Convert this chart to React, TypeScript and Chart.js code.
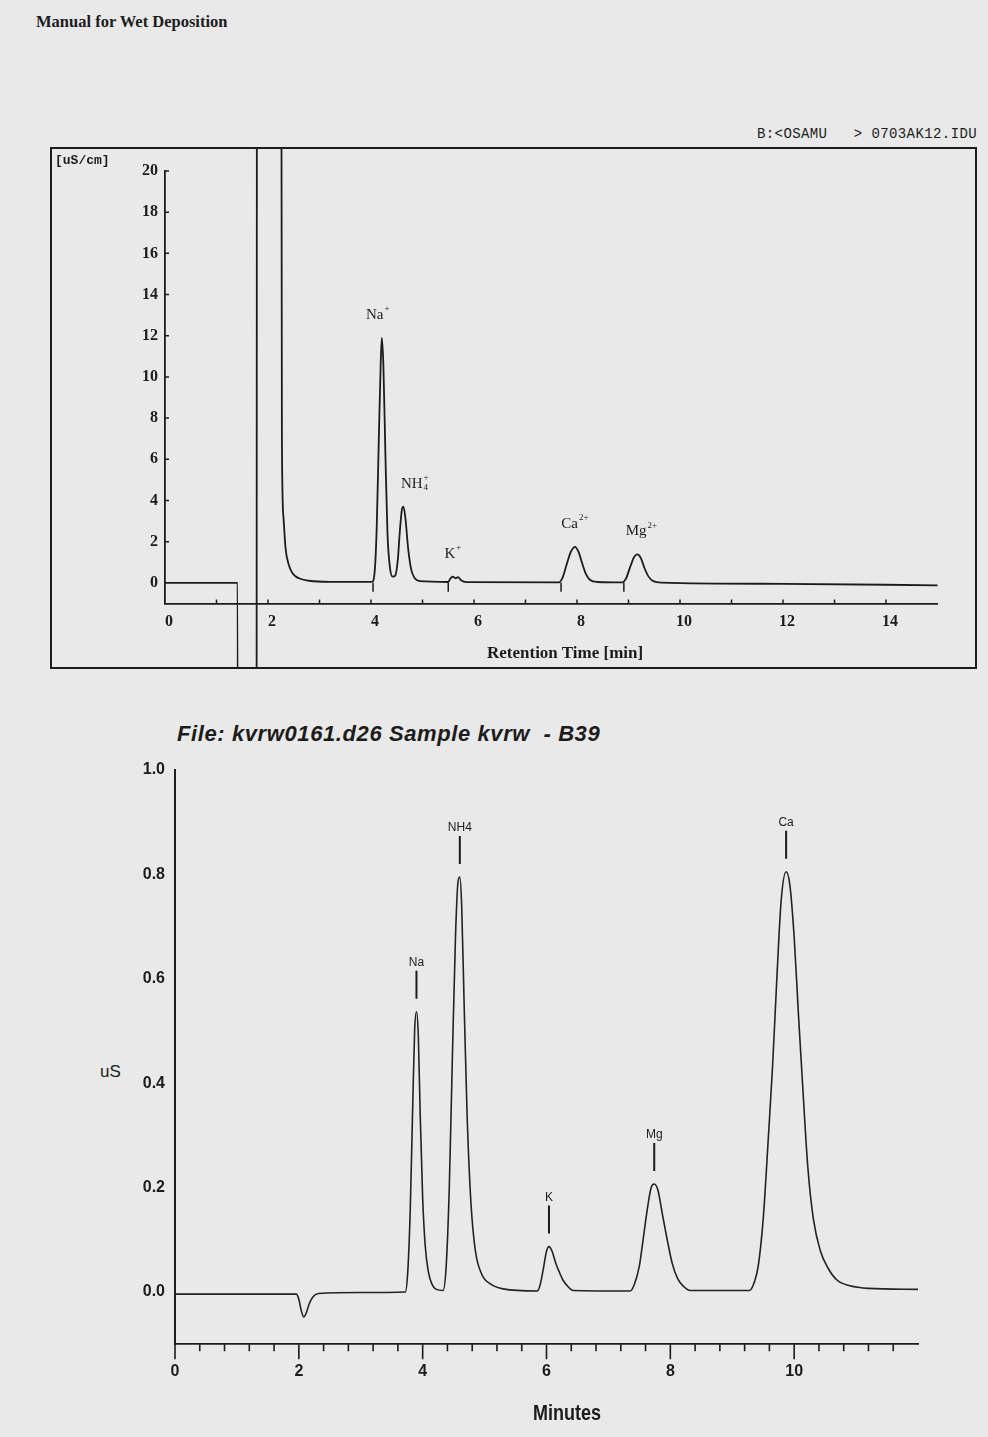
import React, { useEffect, useRef } from 'react';
import { Chart, registerables } from 'chart.js';

Chart.register(...registerables);

// ---------- Top chromatogram (uS/cm vs retention time) ----------
const topTimes = [
  0, 1.41, 1.43, 1.77, 1.79, 2.24, 2.27, 2.3, 2.34, 2.4, 2.48, 2.6, 2.8, 3.2,
  4.02, 4.07, 4.11, 4.15, 4.19, 4.21, 4.24, 4.28, 4.32, 4.37, 4.42,
  4.47, 4.52, 4.56, 4.6, 4.63, 4.67, 4.72, 4.78, 4.85, 4.95,
  5.5, 5.54, 5.59, 5.64, 5.69, 5.75, 5.85,
  7.65, 7.72, 7.8, 7.88, 7.96, 8.03, 8.1, 8.17, 8.25, 8.4,
  8.88, 8.95, 9.03, 9.11, 9.17, 9.24, 9.31, 9.39, 9.48, 9.65,
  12.0, 15.0,
];
const topValues = [
  0, 0, -60, -60, 60, 60, 7, 3.2, 1.7, 0.9, 0.45, 0.22, 0.1, 0.05,
  0.05, 0.5, 2.6, 6.8, 10.8, 11.9, 10.6, 6.2, 2.4, 0.7, 0.3,
  0.35, 1.1, 2.5, 3.55, 3.7, 3.1, 1.7, 0.65, 0.22, 0.08,
  0.04, 0.2, 0.3, 0.22, 0.28, 0.12, 0.03,
  0.02, 0.25, 0.9, 1.5, 1.75, 1.5, 0.95, 0.45, 0.15, 0.04,
  0.02, 0.2, 0.75, 1.25, 1.38, 1.2, 0.72, 0.3, 0.08, 0.01,
  -0.05, -0.12,
];
const topXTicks = [0, 2, 4, 6, 8, 10, 12, 14];
const topYTicks = [0, 2, 4, 6, 8, 10, 12, 14, 16, 18, 20];
const topPeakBases = ['Na', 'NH', 'K', 'Ca', 'Mg'];
const topPeakSubs = ['', '4', '', '', ''];
const topPeakSups = ['+', '+', '+', '2+', '2+'];
const topLabelTimes = [4.13, 4.85, 5.59, 7.96, 9.25];
const topPeakHeights = [11.9, 3.7, 0.3, 1.75, 1.38];
const topMarkTimes = [4.04, 5.5, 7.69, 8.91];

// ---------- Bottom chromatogram (uS vs minutes) ----------
const botTimes = [
  0, 1.96, 2.0, 2.04, 2.08, 2.12, 2.17, 2.23, 2.32, 3.0, 3.72,
  3.76, 3.8, 3.84, 3.87, 3.9, 3.93, 3.96, 4.0, 4.04, 4.09, 4.15, 4.22, 4.33,
  4.38, 4.43, 4.48, 4.53, 4.57, 4.6, 4.63, 4.67, 4.72, 4.78, 4.85, 4.95, 5.1, 5.3, 5.85,
  5.9, 5.95, 6.0, 6.04, 6.09, 6.15, 6.2, 6.27, 6.35, 6.43, 7.35,
  7.42, 7.5, 7.56, 7.63, 7.69, 7.74, 7.8, 7.87, 7.95, 8.03, 8.12, 8.22, 8.32, 9.28,
  9.36, 9.42, 9.5, 9.58, 9.65, 9.72, 9.79, 9.87, 9.93, 10.0, 10.07, 10.13, 10.22,
  10.31, 10.42, 10.55, 10.7, 10.9, 11.2, 12.0,
];
const botValues = [
  -0.004, -0.004, -0.014, -0.036, -0.048, -0.04, -0.022, -0.009, -0.003, -0.001, 0.0,
  0.04, 0.16, 0.36, 0.5, 0.537, 0.49, 0.34, 0.18, 0.09, 0.04, 0.015, 0.005, 0.003,
  0.05, 0.2, 0.45, 0.68, 0.785, 0.795, 0.74, 0.55, 0.33, 0.17, 0.08, 0.035, 0.015, 0.006, 0.002,
  0.015, 0.045, 0.078, 0.087, 0.078, 0.055, 0.04, 0.022, 0.01, 0.003, 0.002,
  0.015, 0.05, 0.1, 0.16, 0.2, 0.207, 0.195, 0.15, 0.1, 0.055, 0.025, 0.01, 0.003, 0.003,
  0.02, 0.05, 0.14, 0.29, 0.43, 0.6, 0.75, 0.805, 0.78, 0.68, 0.53, 0.41, 0.24,
  0.14, 0.08, 0.045, 0.022, 0.012, 0.007, 0.005,
];
const botXTicks = [0, 2, 4, 6, 8, 10];
const botYTicks = [0, 0.2, 0.4, 0.6, 0.8, 1.0];
const botPeakNames = ['Na', 'NH4', 'K', 'Mg', 'Ca'];
const botPeakTimes = [3.9, 4.6, 6.04, 7.74, 9.87];
const botPeakHeights = [0.537, 0.795, 0.087, 0.207, 0.805];

const INK = '#1c1c1c';

function drawChem(ctx: CanvasRenderingContext2D, cx: number, cy: number, base: string, sub: string, sup: string) {
  const baseFont = '15px "Liberation Serif"';
  const smallFont = '9px "Liberation Serif"';
  ctx.font = baseFont;
  const bw = ctx.measureText(base).width;
  ctx.font = smallFont;
  const sw = Math.max(ctx.measureText(sub).width, ctx.measureText(sup).width);
  const x0 = cx - (bw + sw + 1) / 2;
  ctx.textAlign = 'left';
  ctx.textBaseline = 'middle';
  ctx.fillStyle = INK;
  ctx.font = baseFont;
  ctx.fillText(base, x0, cy);
  ctx.font = smallFont;
  if (sub) ctx.fillText(sub, x0 + bw + 1, cy + 4);
  if (sup) ctx.fillText(sup, x0 + bw + 1, cy - 6);
}

export default function App() {
  const topRef = useRef<HTMLCanvasElement>(null);
  const botRef = useRef<HTMLCanvasElement>(null);

  useEffect(() => {
    document.body.style.margin = '0';
    document.body.style.overflow = 'hidden';

    const topDecor = {
      id: 'topDecor',
      afterDatasetsDraw(chart: any) {
        const { ctx, chartArea } = chart;
        const xs = chart.scales.x;
        const ys = chart.scales.y;
        ctx.save();
        ctx.strokeStyle = INK;
        ctx.lineWidth = 1.5;
        ctx.beginPath();
        for (let v = 1; v <= 14; v++) {
          const px = xs.getPixelForValue(v);
          ctx.moveTo(px, chartArea.bottom);
          ctx.lineTo(px, chartArea.bottom - 4);
        }
        for (const v of topYTicks) {
          if (v === 0) continue;
          const py = ys.getPixelForValue(v);
          ctx.moveTo(chartArea.left, py);
          ctx.lineTo(chartArea.left + 4, py);
        }
        const p0 = ys.getPixelForValue(0);
        for (const t of topMarkTimes) {
          const px = xs.getPixelForValue(t);
          ctx.moveTo(px, p0);
          ctx.lineTo(px, p0 + 9);
        }
        ctx.stroke();
        for (let i = 0; i < topPeakBases.length; i++) {
          const px = xs.getPixelForValue(topLabelTimes[i]);
          const py = ys.getPixelForValue(topPeakHeights[i]) - 23;
          drawChem(ctx, px, py, topPeakBases[i], topPeakSubs[i], topPeakSups[i]);
        }
        ctx.restore();
      },
    };

    const botDecor = {
      id: 'botDecor',
      afterDatasetsDraw(chart: any) {
        const { ctx, chartArea } = chart;
        const xs = chart.scales.x;
        const ys = chart.scales.y;
        ctx.save();
        ctx.strokeStyle = INK;
        ctx.lineWidth = 1.6;
        ctx.beginPath();
        for (let k = 0; k <= 29; k++) {
          const v = k * 0.4;
          const px = xs.getPixelForValue(v);
          const major = k % 5 === 0;
          ctx.moveTo(px, chartArea.bottom);
          ctx.lineTo(px, chartArea.bottom + (major ? 15 : 7));
        }
        ctx.stroke();
        ctx.lineWidth = 2;
        ctx.beginPath();
        for (let i = 0; i < botPeakNames.length; i++) {
          const px = xs.getPixelForValue(botPeakTimes[i]);
          const py = ys.getPixelForValue(botPeakHeights[i]);
          ctx.moveTo(px, py - 41);
          ctx.lineTo(px, py - 13);
        }
        ctx.stroke();
        ctx.fillStyle = INK;
        ctx.font = '12px "Liberation Sans"';
        ctx.textAlign = 'center';
        ctx.textBaseline = 'middle';
        for (let i = 0; i < botPeakNames.length; i++) {
          const px = xs.getPixelForValue(botPeakTimes[i]);
          const py = ys.getPixelForValue(botPeakHeights[i]);
          ctx.fillText(botPeakNames[i], px, py - 49);
        }
        ctx.restore();
      },
    };

    const c1 = new Chart(topRef.current as HTMLCanvasElement, {
      type: 'line',
      data: {
        datasets: [
          {
            data: topTimes.map((t, i) => ({ x: t, y: topValues[i] })),
            borderColor: INK,
            borderWidth: 1.8,
            pointRadius: 0,
            cubicInterpolationMode: 'monotone',
            capBezierPoints: false,
            clip: false as any,
            fill: false,
          } as any,
        ],
      },
      options: {
        responsive: false,
        animation: false,
        events: [],
        layout: { padding: { left: 0, right: 37.5, top: 22, bottom: 0 } },
        plugins: { legend: { display: false }, tooltip: { enabled: false } },
        scales: {
          x: {
            type: 'linear',
            min: 0,
            max: 15,
            afterFit: (s: any) => { s.height = 63.6; },
            afterBuildTicks: (s: any) => { s.ticks = topXTicks.map((v) => ({ value: v })); },
            grid: { display: false, drawTicks: false },
            border: { display: true, color: INK, width: 1.8 },
            ticks: {
              color: INK,
              padding: 9,
              labelOffset: 4,
              maxRotation: 0,
              autoSkip: false,
              font: { family: '"Liberation Serif"', size: 16, weight: 'bold' },
              callback: (v: any) => String(v),
            },
          },
          y: {
            type: 'linear',
            min: -1,
            max: 20,
            afterFit: (s: any) => { s.width = 113; },
            afterBuildTicks: (s: any) => { s.ticks = topYTicks.map((v) => ({ value: v })); },
            grid: { display: false, drawTicks: false },
            border: { display: true, color: INK, width: 1.8 },
            ticks: {
              color: INK,
              padding: 7,
              autoSkip: false,
              font: { family: '"Liberation Serif"', size: 16, weight: 'bold' },
              callback: (v: any) => String(v),
            },
          },
        },
      },
      plugins: [topDecor],
    } as any);

    const c2 = new Chart(botRef.current as HTMLCanvasElement, {
      type: 'line',
      data: {
        datasets: [
          {
            data: botTimes.map((t, i) => ({ x: t, y: botValues[i] })),
            borderColor: '#222222',
            borderWidth: 1.6,
            pointRadius: 0,
            cubicInterpolationMode: 'monotone',
            fill: false,
          } as any,
        ],
      },
      options: {
        responsive: false,
        animation: false,
        events: [],
        layout: { padding: { left: 0, right: 70, top: 20, bottom: 0 } },
        plugins: { legend: { display: false }, tooltip: { enabled: false } },
        scales: {
          x: {
            type: 'linear',
            min: 0,
            max: 12,
            afterFit: (s: any) => { s.height = 92.8; },
            afterBuildTicks: (s: any) => { s.ticks = botXTicks.map((v) => ({ value: v })); },
            grid: { display: false, drawTicks: false },
            border: { display: true, color: INK, width: 1.8 },
            ticks: {
              color: INK,
              padding: 18.2,
              maxRotation: 0,
              autoSkip: false,
              font: { family: '"Liberation Sans"', size: 16, weight: 'bold' },
              callback: (v: any) => String(v),
            },
          },
          y: {
            type: 'linear',
            min: -0.1,
            max: 1.0,
            afterFit: (s: any) => { s.width = 115; },
            afterBuildTicks: (s: any) => { s.ticks = botYTicks.map((v) => ({ value: v })); },
            grid: { display: false, drawTicks: false },
            border: { display: true, color: INK, width: 2 },
            ticks: {
              color: INK,
              padding: 10,
              autoSkip: false,
              font: { family: '"Liberation Sans"', size: 16, weight: 'bold' },
              callback: (v: any) => Number(v).toFixed(1),
            },
          },
        },
      },
      plugins: [botDecor],
    } as any);

    return () => {
      c1.destroy();
      c2.destroy();
    };
  }, []);

  const abs = (o: React.CSSProperties): React.CSSProperties => ({ position: 'absolute', lineHeight: 1, whiteSpace: 'pre', color: INK, ...o });

  return (
    <div style={{ position: 'absolute', left: 0, top: 0, width: 988, height: 1437, background: '#e9e9e9', overflow: 'hidden' }}>
      <div style={abs({ left: 36, top: 12, font: 'bold 16.5px "Liberation Serif"' })}>Manual for Wet Deposition</div>
      <div style={abs({ left: 757, top: 126, font: '14px "Liberation Mono"', letterSpacing: '0.4px' })}>{'B:<OSAMU   > 0703AK12.IDU'}</div>
      <div style={{ position: 'absolute', left: 50, top: 147, width: 927, height: 522, border: `2px solid ${INK}`, boxSizing: 'border-box' }}>
        <canvas ref={topRef} width={923} height={518} style={{ position: 'absolute', left: 0, top: 0, width: 923, height: 518 }} />
        <div style={abs({ left: 3, top: 4, font: 'bold 13px "Liberation Mono"' })}>[uS/cm]</div>
        <div style={abs({ left: 435, top: 494, font: 'bold 17px "Liberation Serif"' })}>Retention Time [min]</div>
      </div>
      <div style={abs({ left: 177, top: 721, font: 'italic bold 22px "Liberation Sans"', letterSpacing: '0.6px' })}>{'File: kvrw0161.d26 Sample kvrw  - B39'}</div>
      <div style={abs({ left: 100, top: 1062, font: '17px "Liberation Sans"' })}>uS</div>
      <canvas ref={botRef} width={928} height={687} style={{ position: 'absolute', left: 60, top: 750, width: 928, height: 687 }} />
      <div style={abs({ left: 533, top: 1403, font: 'bold 18px "Liberation Sans"', transform: 'scaleY(1.2)' })}>Minutes</div>
    </div>
  );
}
